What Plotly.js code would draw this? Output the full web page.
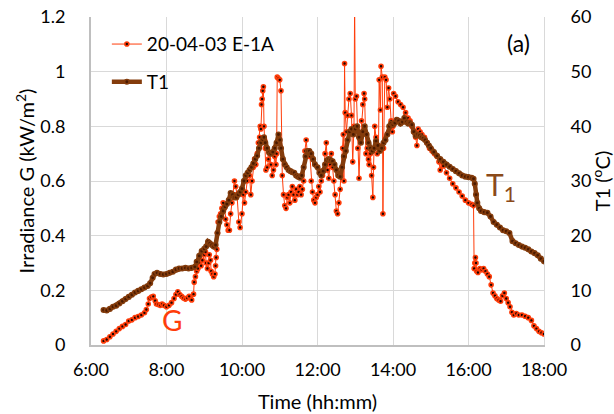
<!DOCTYPE html>
<html>
<head>
<meta charset="utf-8">
<script src="https://cdn.plot.ly/plotly-3.0.1.min.js"></script>
<style>html,body{margin:0;padding:0;background:#fff}#chart{width:614px;height:414px}</style>
</head>
<body>
<div id="chart"></div>
<script>
// Irradiance G (kW/m2), series "20-04-03 E-1A"
const tG = ["06:20","06:25","06:30","06:35","06:40","06:45","06:50","06:55","07:00","07:05","07:10","07:15","07:20","07:25","07:28","07:31","07:33","07:36","07:39","07:42","07:44","07:47","07:50","07:53","07:56","08:00","08:04","08:08","08:12","08:15","08:18","08:21","08:24","08:27","08:30","08:33","08:36","08:40","08:43",
"08:44","08:46","08:48","08:50","08:52","08:55","08:57","09:00","09:02","09:03","09:05","09:07","09:08","09:10","09:11","09:13","09:15","09:17","09:18","09:19","09:20","09:21","09:22","09:24","09:26","09:28","09:30","09:32","09:34","09:36","09:38","09:40","09:42","09:44","09:46","09:48","09:50","09:52","09:55","09:57",
"10:00","10:02","10:04","10:06","10:08","10:10","10:12","10:14","10:16","10:18","10:20","10:22","10:24","10:26","10:28","10:29","10:30","10:31","10:32","10:33","10:34","10:35","10:36","10:37","10:38","10:40","10:42","10:44","10:46","10:48","10:50","10:52","10:54","10:55","10:56","10:58",
"11:00","11:02","11:04","11:06","11:08","11:10","11:12","11:14","11:16","11:18","11:20","11:22","11:24","11:26","11:28","11:30","11:32","11:34","11:36","11:38","11:40","11:42","11:44","11:46","11:48","11:50","11:52","11:54","11:56","11:58",
"12:00","12:02","12:04","12:06","12:08","12:10","12:12","12:14","12:16","12:18","12:20","12:22","12:24","12:26","12:28","12:30","12:32","12:34","12:36","12:37","12:40","12:41","12:42","12:43","12:44","12:46","12:48","12:50","12:52","12:54","12:56","12:58","12:59",
"13:00","13:02","13:04","13:06","13:08","13:10","13:12","13:14","13:15","13:17","13:19","13:21","13:22","13:24","13:26","13:28","13:29","13:31","13:33","13:35","13:37","13:38","13:40","13:41","13:43","13:44","13:45","13:47","13:49","13:51","13:53","13:55","13:57","13:59",
"14:00","14:01","14:04","14:08","14:12","14:16","14:20","14:24","14:27","14:30","14:33","14:36","14:38","14:40","14:43","14:46","14:50","14:54","14:58",
"15:02","15:06","15:10","15:13","15:15","15:17","15:20","15:25","15:30","15:35","15:40","15:45","15:50","15:55",
"16:00","16:05","16:08","16:09","16:10","16:11","16:12","16:13","16:15","16:18","16:21","16:24","16:27","16:30","16:33","16:36","16:39","16:42","16:45","16:48","16:51","16:54","16:57",
"17:00","17:03","17:06","17:09","17:12","17:16","17:20","17:25","17:30","17:35","17:40","17:44","17:48","17:52","17:56","18:00"];
const G = [0.015,0.02,0.03,0.04,0.05,0.06,0.068,0.075,0.088,0.092,0.10,0.104,0.11,0.118,0.13,0.15,0.17,0.175,0.178,0.162,0.15,0.148,0.145,0.15,0.145,0.14,0.145,0.155,0.17,0.185,0.195,0.185,0.178,0.172,0.168,0.172,0.178,0.165,0.186,
0.23,0.25,0.27,0.28,0.30,0.29,0.31,0.33,0.34,0.30,0.28,0.30,0.33,0.31,0.27,0.26,0.25,0.26,0.29,0.32,0.35,0.41,0.45,0.47,0.48,0.50,0.52,0.50,0.46,0.44,0.42,0.42,0.48,0.52,0.55,0.60,0.58,0.55,0.45,0.43,
0.48,0.55,0.52,0.56,0.60,0.63,0.62,0.55,0.60,0.65,0.68,0.66,0.70,0.74,0.76,0.80,0.79,0.88,0.90,0.93,0.945,0.80,0.75,0.72,0.64,0.65,0.68,0.70,0.66,0.62,0.64,0.69,0.66,0.70,0.98,0.975,
0.97,0.93,0.62,0.55,0.51,0.50,0.54,0.55,0.52,0.56,0.58,0.55,0.53,0.57,0.55,0.56,0.58,0.55,0.57,0.60,0.71,0.75,0.70,0.71,0.69,0.60,0.56,0.53,0.52,0.54,
0.55,0.58,0.56,0.60,0.62,0.64,0.70,0.74,0.64,0.61,0.66,0.70,0.65,0.60,0.55,0.49,0.48,0.52,0.57,0.62,0.72,0.77,0.60,1.03,0.85,0.78,0.84,0.90,0.92,0.84,0.67,0.80,1.26,
0.90,0.91,0.72,0.61,0.75,0.82,0.88,0.92,0.90,0.70,0.72,0.68,0.66,0.70,0.62,0.54,0.65,0.80,0.76,0.70,0.73,0.97,0.86,1.02,0.98,0.48,0.72,0.98,0.97,0.87,0.94,0.90,0.82,0.78,
0.80,0.92,0.91,0.89,0.88,0.87,0.85,0.83,0.82,0.80,0.78,0.76,0.73,0.79,0.78,0.77,0.76,0.74,0.72,
0.71,0.70,0.69,0.67,0.64,0.67,0.655,0.63,0.61,0.59,0.575,0.56,0.545,0.53,
0.52,0.515,0.51,0.28,0.30,0.32,0.30,0.27,0.265,0.28,0.275,0.28,0.27,0.26,0.25,0.22,0.19,0.18,0.17,0.165,0.16,0.18,0.19,
0.17,0.155,0.14,0.12,0.11,0.115,0.11,0.11,0.105,0.10,0.09,0.07,0.06,0.05,0.045,0.04];

// Temperature T1 (degC)
const tT = ["06:20","06:25","06:30","06:35","06:40","06:45","06:50","06:55","07:00","07:05","07:10","07:15","07:20","07:25","07:30","07:34","07:38","07:41","07:45","07:50","07:55","08:00","08:05","08:10","08:15","08:20","08:25","08:30","08:35","08:40","08:45","08:48","08:52","08:56",
"09:00","09:03","09:06","09:09","09:12","09:15","09:18","09:21","09:24","09:27","09:30","09:33","09:36","09:39","09:42","09:45","09:48","09:51","09:54","09:57",
"10:00","10:03","10:06","10:09","10:12","10:15","10:18","10:21","10:24","10:27","10:30","10:33","10:35","10:37","10:40","10:43","10:46","10:49","10:52","10:55","10:58",
"11:00","11:02","11:05","11:08","11:11","11:14","11:17","11:20","11:23","11:26","11:29","11:32","11:35","11:38","11:41","11:44","11:47","11:50","11:53","11:56",
"12:00","12:03","12:06","12:09","12:12","12:15","12:18","12:21","12:24","12:27","12:30","12:33","12:36","12:39","12:42","12:45","12:48","12:51","12:54","12:57",
"13:00","13:03","13:06","13:09","13:12","13:15","13:18","13:21","13:24","13:27","13:30","13:33","13:36","13:39","13:42","13:45","13:48","13:51","13:54","13:57",
"14:00","14:03","14:06","14:09","14:12","14:15","14:18","14:21","14:24","14:27","14:30","14:33","14:36","14:39","14:42","14:45","14:48","14:51","14:54","14:57",
"15:00","15:05","15:10","15:15","15:20","15:25","15:30","15:35","15:40","15:45","15:50","15:55",
"16:00","16:05","16:08","16:10","16:12","16:14","16:17","16:20","16:25","16:30","16:35","16:40","16:45","16:50","16:55",
"17:00","17:05","17:10","17:15","17:20","17:25","17:30","17:35","17:40","17:45","17:50","17:55","18:00"];
const T1 = [6.4,6.3,6.6,7.0,7.2,7.6,8.0,8.4,8.8,9.2,9.6,9.9,10.2,10.5,10.8,11.3,12.3,13.0,13.2,13.0,12.9,13.0,13.2,13.4,13.8,14.0,14.0,14.1,14.0,14.1,14.3,15.2,16.3,17.2,
17.6,18.0,18.9,18.6,18.3,18.0,18.3,20.5,22.5,23.5,24.5,25.3,25.8,26.5,27.8,27.5,27.0,27.0,27.5,28.0,
28.6,30.0,31.0,31.5,32.0,32.5,33.2,34.0,34.6,36.0,37.0,37.6,38.0,37.0,36.0,35.2,35.0,35.3,36.0,37.0,38.5,
37.5,36.0,34.0,33.0,32.5,32.0,31.8,31.6,31.5,31.0,30.8,30.6,31.0,32.5,34.5,35.5,35.5,35.0,34.0,33.0,
32.5,31.5,31.0,31.8,33.0,33.8,34.0,33.8,33.6,33.0,32.0,31.0,30.8,32.5,34.5,35.5,37.5,39.0,39.5,38.5,
39.5,40.0,38.0,37.0,39.0,40.0,38.5,37.0,36.0,35.5,36.0,37.3,36.5,35.5,36.0,37.0,37.5,38.5,40.0,40.5,
40.3,40.6,41.2,41.0,40.5,40.8,41.5,40.8,40.5,40.6,40.3,39.0,38.3,38.5,38.3,38.0,37.8,37.5,37.0,36.5,
36.0,35.3,34.6,34.0,33.5,33.0,32.6,32.2,31.8,31.4,31.0,30.8,
30.7,30.6,30.4,29.5,27.5,26.0,25.0,24.5,24.3,24.2,23.5,22.5,22.0,21.5,21.0,
20.8,20.5,19.0,18.6,18.3,18.0,17.8,17.5,17.1,16.8,16.4,15.8,15.3];

const xTickVals = [6,8,10,12,14,16,18];
const xTickText = ["6:00","8:00","10:00","12:00","14:00","16:00","18:00"];

function toHours(s){ const p = s.split(":"); return Number(p[0]) + Number(p[1])/60; }

const FONT = "Lato, 'Open Sans', sans-serif";

const traces = [
  {
    x: tG.map(toHours), y: G, name: "20-04-03 E-1A", type: "scatter", mode: "lines+markers",
    line: {color: "#FF3D0A", width: 1},
    marker: {color: "#1a0500", size: 4, line: {color: "#FF3D0A", width: 1.6}},
    yaxis: "y", legendgroup: "a", cliponaxis: true
  },
  {
    x: tT.map(toHours), y: T1, name: "T1", type: "scatter", mode: "lines+markers",
    line: {color: "#843C0C", width: 4.5},
    marker: {color: "#4a1a00", size: 4.5, line: {color: "#843C0C", width: 1.6}},
    yaxis: "y2", legendgroup: "b"
  }
];

const layout = {
  width: 614, height: 414,
  margin: {l: 91, r: 70, t: 17, b: 69},
  paper_bgcolor: "#fff", plot_bgcolor: "#fff",
  font: {family: FONT, size: 18, color: "#000"},
  showlegend: true,
  legend: {x: 0.035, y: 0.975, xanchor: "left", yanchor: "top", bgcolor: "rgba(0,0,0,0)",
           font: {family: FONT, size: 19, color: "#000"}, traceorder: "grouped", tracegroupgap: 10,
           itemwidth: 30},
  xaxis: {
    range: [6, 18], tickvals: xTickVals, ticktext: xTickText,
    showgrid: true, gridcolor: "#d9d9d9", gridwidth: 1,
    showline: true, linecolor: "#bfbfbf", linewidth: 2,
    ticks: "", zeroline: false, ticklabelstandoff: 7,
    tickfont: {family: FONT, size: 18},
    title: {text: "Time (hh:mm)", font: {family: FONT, size: 20}, standoff: 16}
  },
  yaxis: {
    range: [0, 1.2], dtick: 0.2, tick0: 0,
    showgrid: true, gridcolor: "#d9d9d9", gridwidth: 1,
    showline: true, linecolor: "#bfbfbf", linewidth: 2,
    ticks: "", zeroline: false, ticklabelstandoff: 20,
    tickfont: {family: FONT, size: 18},
    title: {text: "Irradiance G (kW/m<sup>2</sup>)", font: {family: FONT, size: 20}, standoff: 0}
  },
  yaxis2: {
    range: [0, 60], dtick: 10, tick0: 0, overlaying: "y", side: "right",
    showgrid: false, showline: true, linecolor: "#d9d9d9", linewidth: 1,
    ticks: "", zeroline: false, ticklabelstandoff: 22,
    tickfont: {family: FONT, size: 18},
    title: {text: "T1 (<sup>o</sup>C)", font: {family: FONT, size: 20}, standoff: 4}
  },
  annotations: [
    {xref: "paper", yref: "paper", x: 0.974, y: 0.92, xanchor: "right", yanchor: "middle",
     text: "(a)", showarrow: false, font: {family: FONT, size: 23, color: "#000"}},
    {xref: "x", yref: "y", x: 8.15, y: 0.092, xanchor: "center", yanchor: "middle",
     text: "G", showarrow: false, font: {family: FONT, size: 28, color: "#FF3D0A"}},
    {xref: "x", yref: "y2", x: 16.87, y: 29.1, xanchor: "center", yanchor: "middle",
     text: "T<sub>1</sub>", showarrow: false, font: {family: FONT, size: 30, color: "#8B4A1A"}}
  ]
};

Plotly.newPlot("chart", traces, layout, {displayModeBar: false, staticPlot: true});
</script>
</body>
</html>
